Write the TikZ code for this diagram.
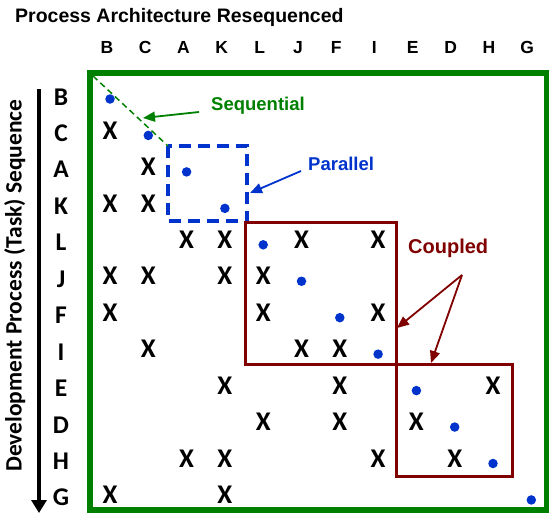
\documentclass[tikz,border=0pt]{standalone}
\usepackage{fontspec}
\setmainfont{Liberation Sans}
\newfontfamily\calibfont{Carlito}
\usetikzlibrary{arrows.meta}
\definecolor{frgreen}{HTML}{008000}
\definecolor{dotblue}{HTML}{0033CC}
\definecolor{maroon}{HTML}{800000}
\begin{document}
\begin{tikzpicture}[x=1pt,y=-1pt,
  titletext/.style={font=\fontsize{19.5}{20}\selectfont\bfseries, anchor=base west, inner sep=0},
  colhead/.style={font=\fontsize{17.5}{18}\selectfont\bfseries, anchor=base, inner sep=0},
  rowhead/.style={font=\calibfont\fontsize{25.5}{26}\selectfont\bfseries, anchor=base, inner sep=0},
  xmark/.style={font=\calibfont\fontsize{27}{28}\selectfont\bfseries, anchor=base, inner sep=0},
  dotmark/.style={circle, fill=dotblue, inner sep=0, minimum size=9.5pt},
  labeltext/.style={font=\fontsize{18.5}{19}\selectfont\bfseries, anchor=base west, inner sep=0},
  axistext/.style={font=\calibfont\fontsize{23.5}{24}\selectfont\bfseries, anchor=base, inner sep=0, rotate=90},
  callout/.style={line width=1.8pt, -{Triangle[length=12pt,width=10pt]}}
]
\useasboundingbox (0,0) rectangle (549,514);

% title
\node[titletext] (title) at (15,22) {Process Architecture Resequenced};

% column headers, row headers, diagonal dots
\foreach \n [count=\i from 0] in {B,C,A,K,L,J,F,I,E,D,H,G} {
  \node[colhead] (col\n) at ({107+38.2*\i},53) {\n};
  \node[rowhead] (row\n) at (61,{99+36.45*\i+6}) {\n};
  \node[dotmark] (dot\n) at ({110+38.3*\i},{99+36.45*\i}) {};
}

% X marks (row,col)
\foreach \r/\c in {1/0, 2/1, 3/0, 3/1, 4/2, 4/3, 4/5, 4/7, 5/0, 5/1, 5/3, 5/4,
                   6/0, 6/4, 6/7, 7/1, 7/5, 7/6, 8/3, 8/6, 8/10, 9/4, 9/6, 9/8,
                   10/2, 10/3, 10/7, 10/9, 11/0, 11/3} {
  \node[xmark] (x\r-\c) at ({110+38.3*\c},{99+36.45*\r+3.7}) {X};
}

% outer green frame
\coordinate (gTL) at (90,72.5);
\coordinate (gBR) at (546.5,510);
\draw[frgreen, line width=6pt] (gTL) rectangle (gBR);

% parallel block
\coordinate (pTL) at (168,146);
\coordinate (pBR) at (247,221);
\draw[dotblue, line width=4pt, dash pattern=on 12pt off 7pt] (pTL) rectangle (pBR);

% coupled blocks
\coordinate (c1TL) at (245,222);
\coordinate (c1BR) at (396,364);
\coordinate (c2TL) at (396,364);
\coordinate (c2BR) at (512,476);
\draw[maroon, line width=3pt] (c1TL) rectangle (c1BR);
\draw[maroon, line width=3pt] (c2TL) rectangle (c2BR);

% sequential diagonal
\coordinate (sStart) at (93,76);
\draw[frgreen, line width=1.5pt, dash pattern=on 6pt off 4pt] (sStart) -- (pTL);

% labels
\node[labeltext, text=frgreen] (seqlabel) at (211,110) {Sequential};
\node[labeltext, text=dotblue] (parlabel) at (308,170) {Parallel};
\node[labeltext, text=maroon, font=\fontsize{20}{21}\selectfont\bfseries] (couplabel) at (408,253) {Coupled};

% callout arrows
\coordinate (seqFrom) at (199,112);
\coordinate (seqTo) at (143,118);
\draw[callout, frgreen] (seqFrom) -- (seqTo);
\coordinate (parFrom) at (301,171);
\coordinate (parTo) at (250,193);
\draw[callout, dotblue] (parFrom) -- (parTo);
\coordinate (coupFrom) at (462,275);
\coordinate (coupTo1) at (397,328);
\coordinate (coupTo2) at (431,363);
\draw[callout, maroon] (coupFrom) -- (coupTo1);
\draw[callout, maroon] (coupFrom) -- (coupTo2);

% axis arrow
\coordinate (axTop) at (39,89);
\coordinate (axBot) at (39,513);
\draw[line width=4.5pt, -{Triangle[length=13pt,width=15pt]}] (axTop) -- (axBot);
\node[axistext] (axislabel) at (21.5,285.5) {Development Process (Task) Sequence};
\end{tikzpicture}
\end{document}
